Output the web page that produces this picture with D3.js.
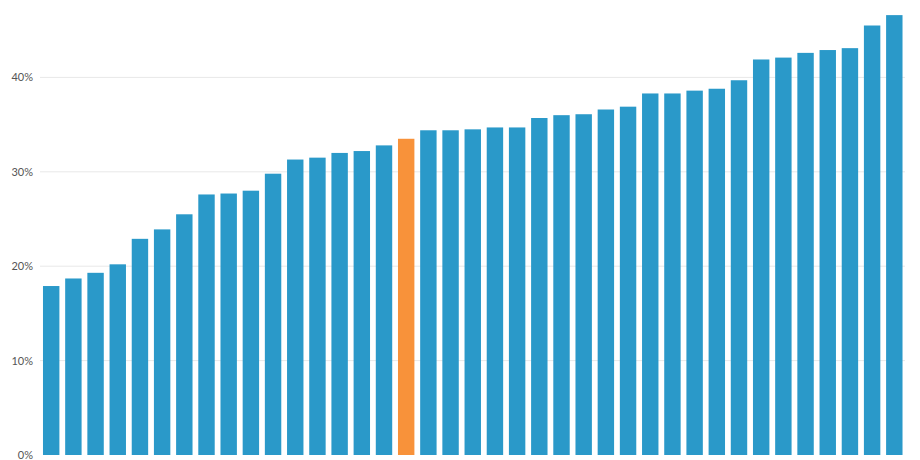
<!DOCTYPE html>
<html>
<head>
<meta charset="utf-8">
<script src="https://cdn.jsdelivr.net/npm/d3@7"></script>
<style>
  html, body { margin: 0; padding: 0; background: #fff; }
  svg { display: block; }
  .tick text { font-family: Lato, "Open Sans", sans-serif; font-size: 11px; fill: #555; }
</style>
</head>
<body>
<svg id="chart" width="920" height="460"></svg>
<script>
const categories = d3.range(1, 40).map(i => "Item " + i);
const values = [17.9, 18.7, 19.3, 20.2, 22.9, 23.9, 25.5, 27.6, 27.7, 28.0,
                29.8, 31.3, 31.5, 32.0, 32.2, 32.8, 33.5, 34.4, 34.4, 34.5,
                34.7, 34.7, 35.7, 36.0, 36.1, 36.6, 36.9, 38.3, 38.3, 38.6,
                38.8, 39.7, 41.9, 42.1, 42.6, 42.9, 43.1, 45.5, 46.6];
const highlightIndex = [16];
const yTicks = [0, 10, 20, 30, 40];

const svg = d3.select("#chart");
const x = d3.scaleBand().domain(categories).range([40.1, 905.4]).paddingInner(0.26).paddingOuter(0.13);
const y = d3.scaleLinear().domain([0, 48]).range([455, 1.9]);

// gridlines
svg.append("g").selectAll("line").data(yTicks.filter(d => d > 0)).join("line")
  .attr("x1", 40).attr("x2", 905)
  .attr("y1", d => y(d)).attr("y2", d => y(d))
  .attr("stroke", "#e8e8e8").attr("stroke-width", 1);

// axis labels
const yAxis = d3.axisLeft(y).tickValues(yTicks).tickFormat(d => d + "%").tickSize(0).tickPadding(0);
const ag = svg.append("g").attr("transform", "translate(33,0)").call(yAxis);
ag.select(".domain").remove();

// bars
svg.append("g").selectAll("rect").data(values).join("rect")
  .attr("x", (d, i) => x(categories[i]))
  .attr("width", x.bandwidth())
  .attr("y", d => y(d))
  .attr("height", d => y(0) - y(d))
  .attr("fill", (d, i) => highlightIndex.includes(i) ? "#f8923a" : "#2a99c9");
</script>
</body>
</html>
